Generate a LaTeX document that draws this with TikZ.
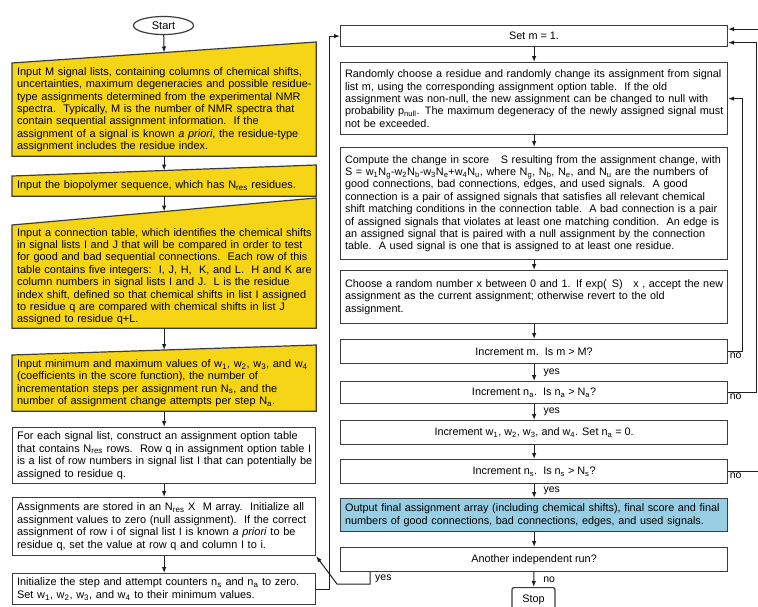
\documentclass[tikz,border=0pt]{standalone}
\usepackage{fontspec}
\setmainfont{Liberation Sans}
\usetikzlibrary{arrows.meta,shapes.geometric,backgrounds}
\definecolor{inyellow}{RGB}{246,212,22}
\definecolor{outblue}{RGB}{152,206,228}
\definecolor{edgecol}{RGB}{60,60,60}
\definecolor{linecol}{RGB}{30,30,30}
\newcommand{\sbs}[1]{\textsubscript{#1}}
\newcommand{\fs}{\fontsize{11}{12.4}\selectfont}
\newcommand{\fsL}{\fontsize{10.95}{12.4}\selectfont}
\newcommand{\fsR}{\fontsize{10.85}{12.4}\selectfont}
\newcommand{\labfs}{\fontsize{10.5}{12}\selectfont}
\begin{document}
\begin{tikzpicture}[x=1pt,y=-1pt,every node/.style={font=\fs}]
\tikzset{
  base/.style={anchor=north west, inner xsep=4.5pt, inner ysep=0pt, line width=1.2pt},
  parbox/.style={align=left, text width=#1, execute at begin node={\rightskip=-40pt plus 1fil\relax}},
  lbox/.style={base, draw=edgecol, fill=white, parbox=294pt, font=\fsL},
  rbox/.style={base, draw=edgecol, fill=white, parbox=378pt, font=\fsR},
  tbox/.style={base, parbox=294pt, font=\fsL},
  cbox/.style={base, draw=edgecol, fill=white, minimum width=387, align=center, font=\fsR},
  bluebox/.style={rbox, fill=outblue},
  conn/.style={draw=linecol, line width=1pt, -{Latex[length=6pt,width=4.5pt]}},
  lab/.style={inner sep=1pt, font=\labfs},
  slantfill/.style={fill=inyellow, draw=edgecol, line width=1.2pt, line join=miter}
}
\useasboundingbox (0,0) rectangle (758,606);

% ---------- left column ----------
\node[ellipse, draw=edgecol, line width=1.2pt, minimum width=60, minimum height=18, inner sep=0pt] (start) at (163.5,25.5) {Start};

\node[tbox, minimum height=92] (t1) at (12,63) {Input M signal lists, containing columns of chemical shifts,\\
uncertainties, maximum degeneracies and possible residue-\\
type assignments determined from the experimental NMR\\
spectra.\ \ Typically, M is the number of NMR spectra that\\
contain sequential assignment information.\ \ If the\\
assignment of a signal is known \emph{a priori}, the residue-type\\
assignment includes the residue index.};

\node[tbox, minimum height=19] (t2) at (12,176) {Input the biopolymer sequence, which has N\sbs{res} residues.};

\node[tbox, minimum height=102] (t3) at (12,225) {Input a connection table, which identifies the chemical shifts\\
in signal lists I and J that will be compared in order to test\\
for good and bad sequential connections.\ \ Each row of this\\
table contains five integers:\ \ I, J, H,\ \ K, and L.\ \ H and K are\\
column numbers in signal lists I and J.\ \ L is the residue\\
index shift, defined so that chemical shifts in list I assigned\\
to residue q are compared with chemical shifts in list J\\
assigned to residue q+L.};

\node[tbox, minimum height=55] (t4) at (12,355) {Input minimum and maximum values of w\sbs{1}, w\sbs{2}, w\sbs{3}, and w\sbs{4}\\
(coefficients in the score function), the number of\\
incrementation steps per assignment run N\sbs{s}, and the\\
number of assignment change attempts per step N\sbs{a}.};

\node[lbox, minimum height=56] (b5) at (12,427) {For each signal list, construct an assignment option table\\
that contains N\sbs{res} rows.\ \ Row q in assignment option table I\\
is a list of row numbers in signal list I that can potentially be\\
assigned to residue q.};

\node[lbox, minimum height=58] (b6) at (12,497) {Assignments are stored in an N\sbs{res} X\ \ M array.\ \ Initialize all\\
assignment values to zero (null assignment).\ \ If the correct\\
assignment of row i of signal list I is known \emph{a priori} to be\\
residue q, set the value at row q and column I to i.};

\node[lbox, minimum height=31] (b7) at (12,573) {Initialize the step and attempt counters n\sbs{s} and n\sbs{a} to zero.\\
Set w\sbs{1}, w\sbs{2}, w\sbs{3}, and w\sbs{4} to their minimum values.};

\begin{scope}[on background layer]
\filldraw[slantfill] (t1.south west) -- (t1.south east) -- ([yshift=21pt]t1.north east) -- (t1.north west) -- cycle;
\filldraw[slantfill] (t2.south west) -- (t2.south east) -- ([yshift=11pt]t2.north east) -- (t2.north west) -- cycle;
\filldraw[slantfill] (t3.south west) -- (t3.south east) -- ([yshift=27pt]t3.north east) -- (t3.north west) -- cycle;
\filldraw[slantfill] (t4.south west) -- (t4.south east) -- ([yshift=10pt]t4.north east) -- (t4.north west) -- cycle;
\end{scope}

\draw[conn] (start) -- ([yshift=10.5pt]t1.north);
\draw[conn] (t1.south) -- ([yshift=5.5pt]t2.north);
\draw[conn] (t2.south) -- ([yshift=13.5pt]t3.north);
\draw[conn] (t3.south) -- ([yshift=5pt]t4.north);
\draw[conn] (t4.south) -- (b5.north);
\draw[conn] (b5.south) -- (b6.north);
\draw[conn] (b6.south) -- (b7.north);

% ---------- right column ----------
\node[cbox, minimum height=21] (setm) at (340,25) {Set m = 1.};

\node[rbox, minimum height=72] (rand) at (340,62) {Randomly choose a residue and randomly change its assignment from signal\\
list m, using the corresponding assignment option table.\ \ If the old\\
assignment was non-null, the new assignment can be changed to null with\\
probability p\sbs{null}. The maximum degeneracy of the newly assigned signal must\\
not be exceeded.};

\node[rbox, minimum height=112] (comp) at (340,147) {Compute the change in score\hspace*{8pt} S resulting from the assignment change, with\\
S = w\sbs{1}N\sbs{g}-w\sbs{2}N\sbs{b}-w\sbs{3}N\sbs{e}+w\sbs{4}N\sbs{u}, where N\sbs{g}, N\sbs{b}, N\sbs{e}, and N\sbs{u} are the numbers of\\
good connections, bad connections, edges, and used signals.\ \ A good\\
connection is a pair of assigned signals that satisfies all relevant chemical\\
shift matching conditions in the connection table.\ \ A bad connection is a pair\\
of assigned signals that violates at least one matching condition.\ \ An edge is\\
an assigned signal that is paired with a null assignment by the connection\\
table.\ \ A used signal is one that is assigned to at least one residue.};

\node[rbox, minimum height=53] (choose) at (340,270) {Choose a random number x between 0 and 1. If exp(\hspace*{5pt}S)\hspace*{7pt} x , accept the new\\
assignment as the current assignment; otherwise revert to the old\\
assignment.};

\node[cbox, minimum height=24] (incm) at (340,339) {Increment m.\ \ Is m > M?};
\node[cbox, minimum height=22] (incna) at (340,381) {Increment n\sbs{a}.\ \ Is n\sbs{a} > N\sbs{a}?};
\node[cbox, minimum height=24] (incw) at (340,420) {Increment w\sbs{1}, w\sbs{2}, w\sbs{3}, and w\sbs{4}. Set n\sbs{a} = 0.};
\node[cbox, minimum height=24] (incns) at (340,459) {Increment n\sbs{s}.\ \ Is n\sbs{s} > N\sbs{s}?};
\node[bluebox, minimum height=33] (out) at (340,498) {Output final assignment array (including chemical shifts), final score and final\\
numbers of good connections, bad connections, edges, and used signals.};
\node[cbox, minimum height=24] (another) at (340,547) {Another independent run?};
\node[draw=edgecol, line width=1.2pt, rounded corners=2pt, minimum width=43, minimum height=25, inner sep=0pt, anchor=north, font=\fsR] (stop) at (533.5,587) {Stop};

\draw[conn] (setm) -- (rand);
\draw[conn] (rand) -- (comp);
\draw[conn] (comp) -- (choose);
\draw[conn] (choose) -- (incm);
\draw[conn] (incm) -- node[lab, right=8pt] {yes} (incna);
\draw[conn] (incna) -- node[lab, right=8pt] {yes} (incw);
\draw[conn] (incw) -- (incns);
\draw[conn] (incns) -- node[lab, right=8pt] {yes} (out);
\draw[conn] (out) -- (another);
\draw[conn] (another) -- node[lab, right=8pt] {no} (stop);

% feedback loops
\draw[conn] (incm.east) -- ++(14,0) |- (rand.east);
\node[lab, anchor=north west] at ([xshift=0.5pt]incm.east) {no};
\draw[conn] (incna.east) -- ++(28,0) |- ([yshift=-6.5pt]setm.east);
\node[lab, anchor=north west] at ([xshift=0.5pt]incna.east) {no};
\draw[conn] (incns.east) -- ++(40,0) |- ([yshift=7pt]setm.east);
\node[lab, anchor=north west] at ([xshift=0.5pt]incns.east) {no};
\draw[conn] (b7.east) -- ++(13,0) |- (setm.west);

\coordinate (ycorner) at (337,584);
\draw[conn] ([xshift=30pt]another.south west) |- (ycorner) -- (b6.south east);
\node[lab, anchor=west] at ([xshift=34pt,yshift=-7pt]another.south west) {yes};
\end{tikzpicture}
\end{document}
